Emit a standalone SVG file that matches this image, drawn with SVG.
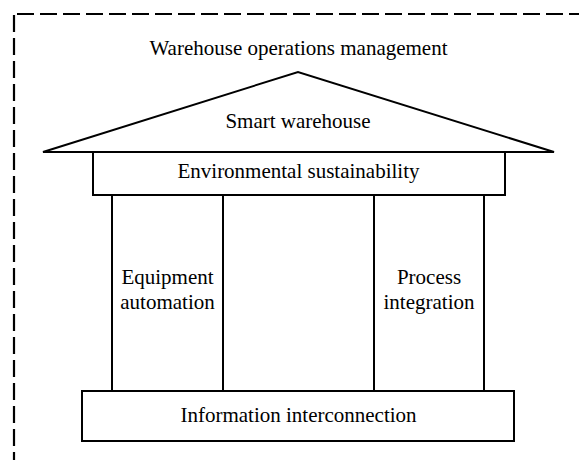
<svg xmlns="http://www.w3.org/2000/svg" width="579" height="460" viewBox="0 0 579 460">
  <style>
    .frame { fill: none; stroke: #000; stroke-width: 2.2; stroke-dasharray: 17 6; }
    .part { fill: #fff; stroke: #000; stroke-width: 2; }
    .pillar { fill: none; stroke: #000; stroke-width: 2; }
    .label { font-family: "Liberation Serif", "Times New Roman", serif; font-size: 21px; fill: #000; text-anchor: middle; }
  </style>
  <rect width="579" height="460" fill="#fff"/>

  <!-- outer dashed boundary (open at right and bottom) -->
  <g id="boundary">
    <line class="frame" x1="17" y1="14" x2="579" y2="14"/>
    <line class="frame" x1="14" y1="15" x2="14" y2="460"/>
  </g>

  <g id="title">
    <text class="label" x="298.5" y="55">Warehouse operations management</text>
  </g>

  <!-- pillars (drawn as connectors between the beam and the foundation) -->
  <g id="connectors">
    <line class="pillar" x1="112" y1="195" x2="112" y2="391"/>
    <line class="pillar" x1="223" y1="195" x2="223" y2="391"/>
    <line class="pillar" x1="374" y1="195" x2="374" y2="391"/>
    <line class="pillar" x1="484" y1="195" x2="484" y2="391"/>
  </g>

  <g id="roof">
    <polygon class="part" points="43,152 298,72 554,152"/>
    <text class="label" x="298" y="128">Smart warehouse</text>
  </g>

  <g id="beam">
    <rect class="part" x="93" y="152" width="412" height="43"/>
    <text class="label" x="298.5" y="178">Environmental sustainability</text>
  </g>

  <g id="equipment-automation">
    <text class="label" x="167.5" y="284">Equipment</text>
    <text class="label" x="167.5" y="309">automation</text>
  </g>

  <g id="process-integration">
    <text class="label" x="429" y="284">Process</text>
    <text class="label" x="429" y="309">integration</text>
  </g>

  <g id="foundation">
    <rect class="part" x="82" y="391" width="432" height="50"/>
    <text class="label" x="298.5" y="422">Information interconnection</text>
  </g>
</svg>
